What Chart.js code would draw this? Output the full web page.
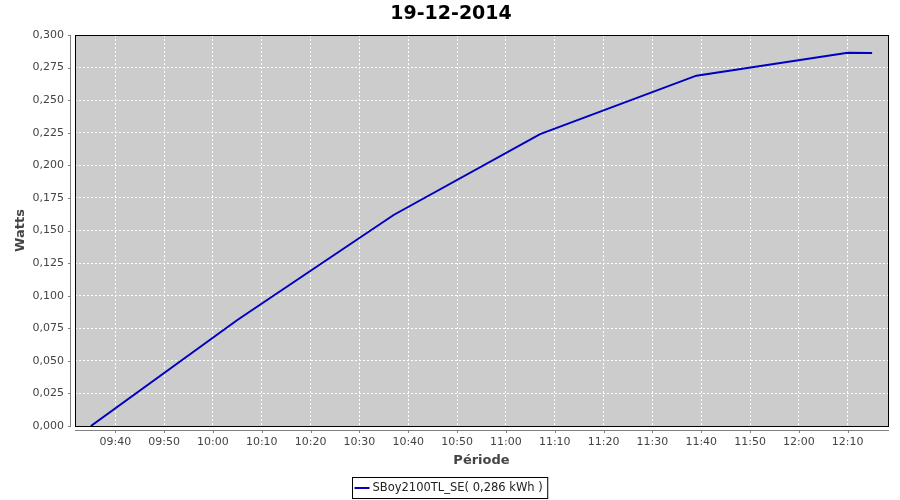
<!DOCTYPE html>
<html>
<head>
<meta charset="utf-8">
<script src="https://cdn.jsdelivr.net/npm/chart.js@4"></script>
<style>
  html, body { margin: 0; padding: 0; background: #ffffff; }
  #wrap { width: 900px; height: 500px; position: relative; }
</style>
</head>
<body>
<div id="wrap"><canvas id="c" width="900" height="500"></canvas></div>
<script>
// ---- data ----
const chartTitle = '19-12-2014';
const seriesLabel = 'SBoy2100TL_SE( 0,286 kWh )';
const times = ['09:35', '10:05', '10:37', '11:07', '11:39', '12:10', '12:15'];
const watts = [0.000, 0.0813, 0.1619, 0.2240, 0.2688, 0.2863, 0.2861];
const xTickLabels = ['09:40', '09:50', '10:00', '10:10', '10:20', '10:30', '10:40', '10:50',
                     '11:00', '11:10', '11:20', '11:30', '11:40', '11:50', '12:00', '12:10'];
const xRange = ['09:31:45', '12:18:15'];
const yMin = 0, yMax = 0.3, yStep = 0.025;

// ---- helpers ----
function toMin(s) {
  const p = s.split(':').map(Number);
  return p[0] * 60 + p[1] + (p[2] || 0) / 60;
}
function fmtMin(v) {
  const h = Math.floor(v / 60), m = Math.round(v - h * 60);
  return String(h).padStart(2, '0') + ':' + String(m).padStart(2, '0');
}

const points = times.map((t, i) => ({ x: toMin(t), y: watts[i] }));
const FONT = "'DejaVu Sans', sans-serif";
const LINE_COLOR = '#0000c0';

const framePlugin = {
  id: 'frame',
  beforeDraw(chart) {
    const { ctx, chartArea: a } = chart;
    ctx.save();
    ctx.fillStyle = '#ffffff';
    ctx.fillRect(0, 0, chart.width, chart.height);
    ctx.fillStyle = '#cccccc';
    ctx.fillRect(a.left, a.top, a.right - a.left, a.bottom - a.top);
    ctx.restore();
  },
  afterDraw(chart) {
    const { ctx, chartArea: a } = chart;
    const xs = chart.scales.x, ys = chart.scales.y;
    ctx.save();
    // plot outline
    ctx.strokeStyle = '#000000';
    ctx.lineWidth = 1;
    ctx.strokeRect(a.left + 0.5, a.top + 0.5, a.right - a.left, a.bottom - a.top);
    // offset axis lines
    ctx.strokeStyle = '#808080';
    ctx.beginPath();
    ctx.moveTo(a.left - 4.5, a.top);
    ctx.lineTo(a.left - 4.5, a.bottom + 1);
    ctx.moveTo(a.left, a.bottom + 4.5);
    ctx.lineTo(a.right + 1, a.bottom + 4.5);
    // tick marks
    ys.ticks.forEach(t => {
      const py = Math.round(ys.getPixelForValue(t.value)) + 0.5;
      ctx.moveTo(a.left - 7, py);
      ctx.lineTo(a.left - 4.5, py);
    });
    xs.ticks.forEach(t => {
      const px = Math.round(xs.getPixelForValue(t.value)) + 0.5;
      ctx.moveTo(px, a.bottom + 4.5);
      ctx.lineTo(px, a.bottom + 7);
    });
    ctx.stroke();
    // title
    ctx.fillStyle = '#000000';
    ctx.font = 'bold 19px ' + FONT;
    ctx.textAlign = 'center';
    ctx.textBaseline = 'middle';
    ctx.fillText(chartTitle, 451, 14);
    // legend
    const label = chart.data.datasets[0].label;
    ctx.font = '11.5px ' + FONT;
    const tw = ctx.measureText(label).width;
    const bw = 2 + 15 + 3 + tw + 5;
    const bx = Math.round(450 - bw / 2) + 0.5;
    const by = 477.5, bh = 21;
    ctx.strokeStyle = '#000000';
    ctx.lineWidth = 1;
    ctx.strokeRect(bx, by, bw, bh);
    ctx.strokeStyle = LINE_COLOR;
    ctx.lineWidth = 2;
    ctx.beginPath();
    ctx.moveTo(bx + 2, by + bh / 2);
    ctx.lineTo(bx + 17, by + bh / 2);
    ctx.stroke();
    ctx.fillStyle = '#222222';
    ctx.textAlign = 'left';
    ctx.fillText(label, bx + 20, by + bh / 2 + 0.5);
    ctx.restore();
  }
};

const gridOpts = {
  color: '#ffffff',
  lineWidth: 1,
  drawTicks: false
};

new Chart(document.getElementById('c'), {
  type: 'line',
  data: {
    datasets: [{
      label: seriesLabel,
      data: points,
      borderColor: LINE_COLOR,
      backgroundColor: LINE_COLOR,
      borderWidth: 2,
      pointRadius: 0,
      tension: 0,
      fill: false
    }]
  },
  options: {
    responsive: false,
    animation: false,
    devicePixelRatio: 1,
    layout: { padding: { top: 35, right: 12, bottom: 0, left: 0 } },
    plugins: {
      legend: { display: false },
      title: { display: false },
      tooltip: { enabled: false }
    },
    scales: {
      x: {
        type: 'linear',
        min: toMin(xRange[0]),
        max: toMin(xRange[1]),
        afterBuildTicks(scale) {
          scale.ticks = xTickLabels.map(l => ({ value: toMin(l) }));
        },
        afterFit(scale) { scale.height = 74; },
        grid: Object.assign({}, gridOpts, { borderDash: [2, 2] }),
        border: { display: false, dash: [2, 2] },
        ticks: {
          autoSkip: false,
          maxRotation: 0,
          padding: 10,
          color: '#444444',
          font: { family: FONT, size: 11 },
          callback: v => fmtMin(v)
        },
        title: {
          display: true,
          text: 'Période',
          color: '#444444',
          font: { family: FONT, size: 13, weight: 'bold' },
          padding: { top: 0, bottom: 32 }
        }
      },
      y: {
        min: yMin,
        max: yMax,
        afterFit(scale) { scale.width = 75; },
        grid: Object.assign({}, gridOpts, { borderDash: [2, 2] }),
        border: { display: false, dash: [2, 2] },
        ticks: {
          stepSize: yStep,
          padding: 11,
          color: '#444444',
          font: { family: FONT, size: 11 },
          callback: v => v.toFixed(3).replace('.', ',')
        },
        title: {
          display: true,
          text: 'Watts',
          color: '#444444',
          font: { family: FONT, size: 13, weight: 'bold' },
          padding: { top: 13, bottom: 0 }
        }
      }
    }
  },
  plugins: [framePlugin]
});
</script>
</body>
</html>
